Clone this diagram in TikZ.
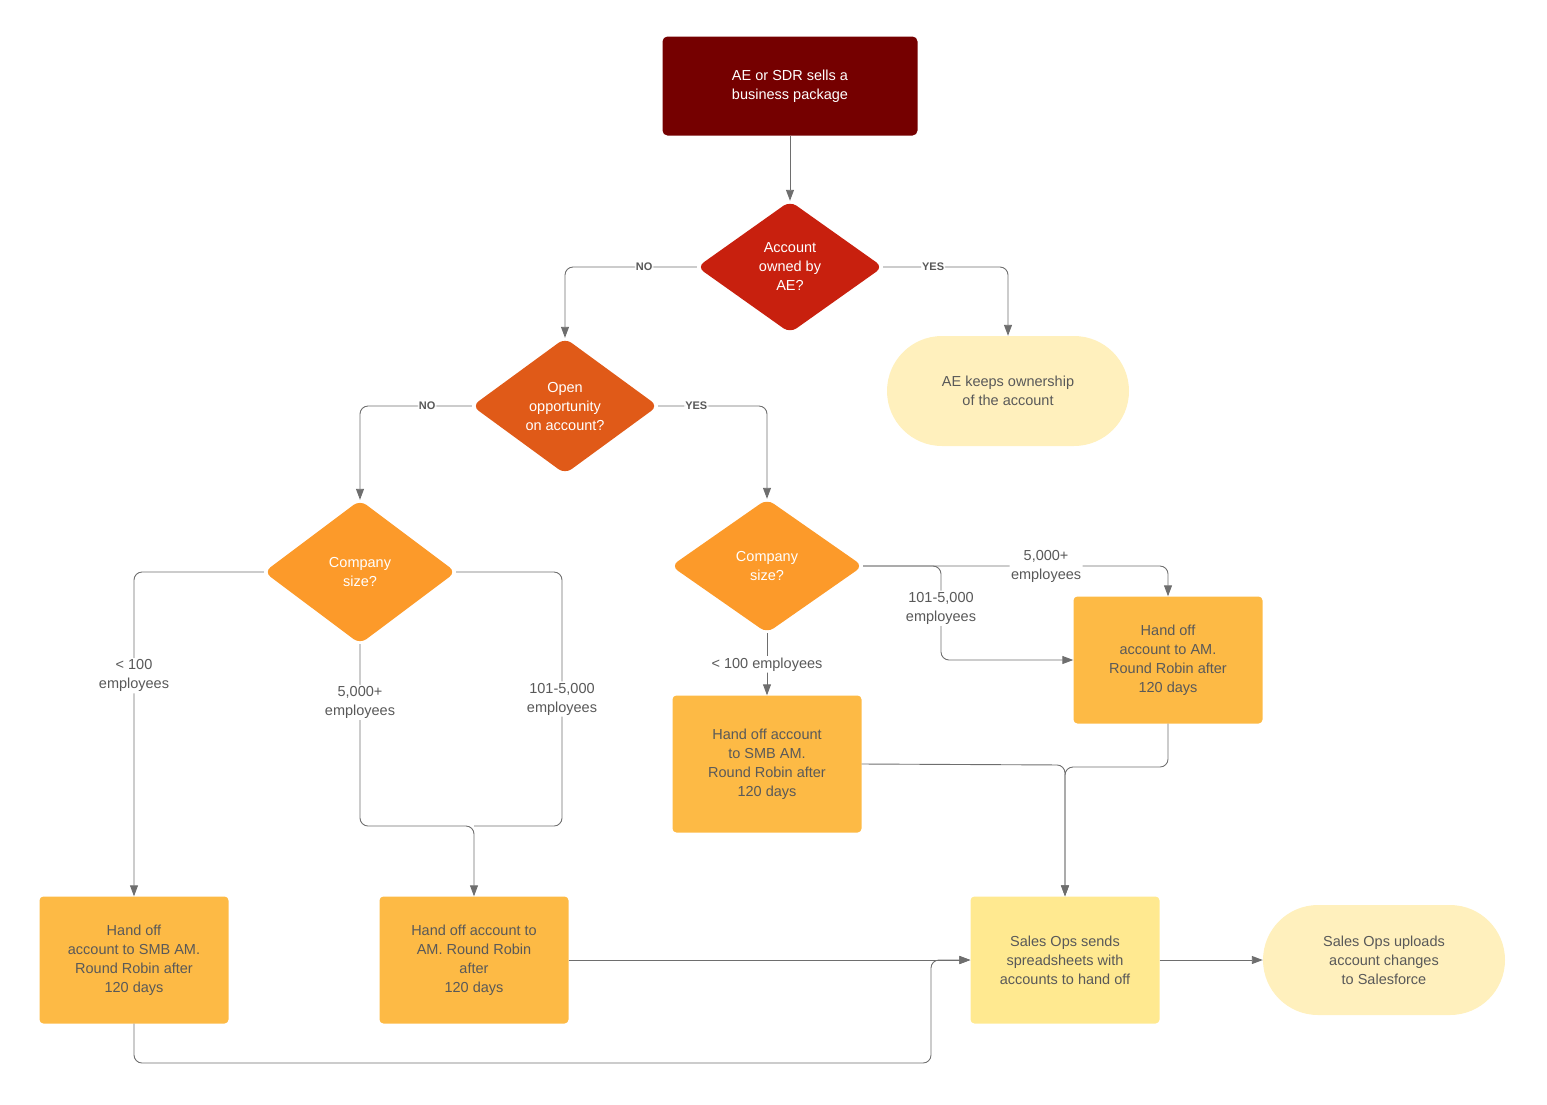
\documentclass[tikz,border=0pt]{standalone}
\usepackage{fontspec}
\setmainfont{Liberation Sans}
\usetikzlibrary{arrows.meta, shapes.geometric, positioning}
\definecolor{darkred}{HTML}{750000}
\definecolor{redd}{HTML}{C8200E}
\definecolor{orangedark}{HTML}{E05A18}
\definecolor{orangemid}{HTML}{FC9A2A}
\definecolor{boxorange}{HTML}{FDBA45}
\definecolor{paleyellow}{HTML}{FFF0BD}
\definecolor{opsyellow}{HTML}{FFE990}
\definecolor{txtgray}{HTML}{595959}
\definecolor{linegray}{HTML}{6E6E6E}
\begin{document}
\begin{tikzpicture}[
        x=1pt, y=-1pt,
        font=\fontsize{14.5}{19}\selectfont,
        start/.style = {rectangle, rounded corners=5pt, fill=darkred, text=white, align=center, minimum width=255pt, minimum height=99pt},
        choice/.style = {diamond, rounded corners=8pt, text=white, align=center, inner sep=0pt},
        handoff/.style = {rectangle, rounded corners=4pt, fill=boxorange, text=txtgray, align=center, minimum width=189pt, minimum height=127pt},
        pill/.style = {rectangle, rounded corners=55pt, fill=paleyellow, text=txtgray, align=center, minimum width=242pt, minimum height=110pt},
        pil/.style = {linegray, line width=0.9pt, rounded corners=8pt, -{Triangle[length=11pt,width=8pt]}},
        lbl/.style = {fill=white, text=txtgray, align=center, inner sep=1.5pt},
        yn/.style = {fill=white, text=txtgray, font=\fontsize{11}{13}\selectfont\bfseries, inner sep=1pt}
        ]

        \useasboundingbox (0,0) rectangle (1547,1104);

        \node[start] (sell) at (790,86) {AE or SDR sells a\\business package};
        \node[choice, fill=redd, minimum width=186pt, minimum height=132pt] (owned) at (790,267) {Account\\owned by\\AE?};
        \node[pill] (keep) at (1008,391) {AE keeps ownership\\of the account};
        \node[choice, fill=orangedark, minimum width=186pt, minimum height=136pt] (open) at (565,406) {Open\\opportunity\\on account?};
        \node[choice, fill=orangemid, minimum width=192pt, minimum height=144pt] (sizeL) at (360,572) {Company\\size?};
        \node[choice, fill=orangemid, minimum width=192pt, minimum height=134pt] (sizeR) at (767,566) {Company\\size?};
        \node[handoff] (amR) at (1168,660) {Hand off\\account to AM.\\Round Robin after\\120 days};
        \node[handoff, minimum height=137pt] (smbR) at (767,764) {Hand off account\\to SMB AM.\\Round Robin after\\120 days};
        \node[handoff] (smbL) at (134,960) {Hand off\\account to SMB AM.\\Round Robin after\\120 days};
        \node[handoff] (amL) at (474,960) {Hand off account to\\AM. Round Robin\\after\\120 days};
        \node[handoff, fill=opsyellow] (ops) at (1065,960) {Sales Ops sends\\spreadsheets with\\accounts to hand off};
        \node[pill] (upload) at (1384,960) {Sales Ops uploads\\account changes\\to Salesforce};

        \draw[pil] (sell) -- (owned);
        \draw[pil] (owned.west) -- node[yn, pos=0.4] {NO} (565,267) -- (open.north);
        \draw[pil] (owned.east) -- node[yn, pos=0.4] {YES} (1008,267) -- (keep.north);
        \draw[pil] (open.west) -- node[yn, pos=0.4] {NO} (360,406) -- (sizeL.north);
        \draw[pil] (open.east) -- node[yn, pos=0.35] {YES} (767,406) -- (sizeR.north);

        \draw[pil] (sizeL.west) -- (134,572) -- node[lbl, pos=0.32] {< 100\\employees} (smbL.north);
        \draw[pil] (sizeL.south) -- node[lbl, pos=0.32] {5,000+\\employees} (360,826) -- (474,826) -- (amL.north);
        \draw[linegray, line width=0.9pt, rounded corners=8pt] (sizeL.east) -- (562,572) -- node[lbl, pos=0.5] {101-5,000\\employees} (562,826) -- (474,826);

        \draw[pil] (sizeR.south) -- node[lbl] {< 100 employees} (smbR.north);
        \draw[pil] (sizeR.east) -- node[lbl, pos=0.6] {5,000+\\employees} (1168,566) -- (amR.north);
        \draw[pil] (sizeR.east) -- (941,566) -- node[lbl, pos=0.45] {101-5,000\\employees} (941,660) -- (amR.west);

        \draw[pil] (smbR.east) -- (1065,765) -- (ops.north);
        \draw[pil] (amR.south) -- (1168,767) -- (1065,767) -- (ops.north);
        \draw[pil] (amL.east) -- (ops.west);
        \draw[pil] (smbL.south) -- (134,1063) -- (931,1063) -- (931,960) -- (ops.west);
        \draw[pil] (ops.east) -- (upload.west);

      \end{tikzpicture}
\end{document}
